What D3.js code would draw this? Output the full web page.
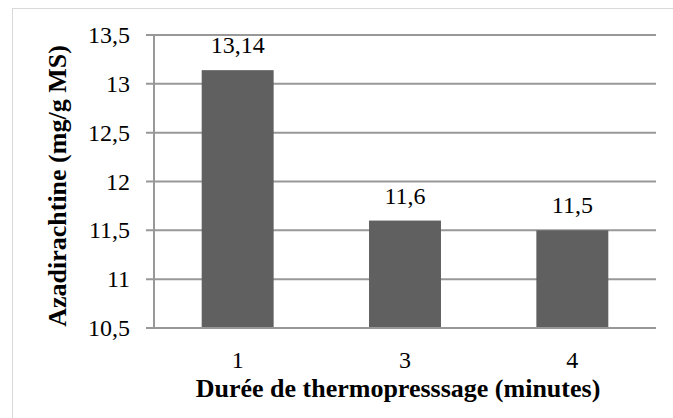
<!DOCTYPE html>
<html>
<head>
<meta charset="utf-8">
<script src="https://cdn.jsdelivr.net/npm/d3@7"></script>
<style>
  html, body { margin: 0; padding: 0; background: #fff; }
  svg { display: block; }
  text { font-family: "Liberation Serif", "Times New Roman", Times, "DejaVu Serif", serif; }
</style>
</head>
<body>
<svg id="chart" width="673" height="418"></svg>
<script>
const categories = ["1", "3", "4"];
const values = [13.14, 11.6, 11.5];
const valueLabels = ["13,14", "11,6", "11,5"];
const yTicks = [10.5, 11, 11.5, 12, 12.5, 13, 13.5];
const yTickLabels = ["10,5", "11", "11,5", "12", "12,5", "13", "13,5"];
const xTitle = "Durée de thermopresssage (minutes)";
const yTitle = "Azadirachtine (mg/g MS)";

(function () {
const svg = d3.select("#chart");

// outer frame
svg.append("rect")
  .attr("x", 12.5).attr("y", 8.5)
  .attr("width", 700).attr("height", 500)
  .attr("fill", "#fff").attr("stroke", "#d9d9d9").attr("stroke-width", 1);

const pLeft = 154, pRight = 656, pTop = 35, pBottom = 328;

const x = d3.scaleBand().domain(categories).range([pLeft, pRight])
  .paddingInner(0.57).paddingOuter(0.285);
const y = d3.scaleLinear().domain([10.5, 13.5]).range([pBottom, pTop]);

// gridlines
svg.append("g").selectAll("line").data(yTicks).join("line")
  .attr("x1", pLeft - 8).attr("x2", pRight)
  .attr("y1", d => y(d)).attr("y2", d => y(d))
  .attr("stroke", "#989898").attr("stroke-width", 2);

// y axis line
svg.append("line")
  .attr("x1", pLeft).attr("x2", pLeft)
  .attr("y1", pTop).attr("y2", pBottom)
  .attr("stroke", "#989898").attr("stroke-width", 2);

// bars
svg.append("g").selectAll("rect").data(values).join("rect")
  .attr("x", (d, i) => x(categories[i]))
  .attr("width", x.bandwidth())
  .attr("y", d => y(d))
  .attr("height", d => y(10.5) - y(d) - 1)
  .attr("fill", "#606060");

// value labels
svg.append("g").selectAll("text").data(values).join("text")
  .attr("x", (d, i) => x(categories[i]) + x.bandwidth() / 2)
  .attr("y", d => y(d) - 17)
  .attr("text-anchor", "middle")
  .attr("font-size", 24).attr("fill", "#000")
  .text((d, i) => valueLabels[i]);

// y tick labels
svg.append("g").selectAll("text").data(yTicks).join("text")
  .attr("x", 130)
  .attr("y", d => y(d) + 8)
  .attr("text-anchor", "end")
  .attr("font-size", 24).attr("fill", "#000")
  .text((d, i) => yTickLabels[i]);

// x tick labels
svg.append("g").selectAll("text").data(categories).join("text")
  .attr("x", d => x(d) + x.bandwidth() / 2)
  .attr("y", 368)
  .attr("text-anchor", "middle")
  .attr("font-size", 24).attr("fill", "#000")
  .text(d => d);

// axis titles
svg.append("text")
  .attr("x", 398).attr("y", 397)
  .attr("text-anchor", "middle")
  .attr("font-size", 26).attr("font-weight", "bold")
  .text(xTitle);

svg.append("text")
  .attr("transform", "translate(66,186) rotate(-90)")
  .attr("text-anchor", "middle")
  .attr("font-size", 26).attr("font-weight", "bold")
  .text(yTitle);
})();
</script>
</body>
</html>
